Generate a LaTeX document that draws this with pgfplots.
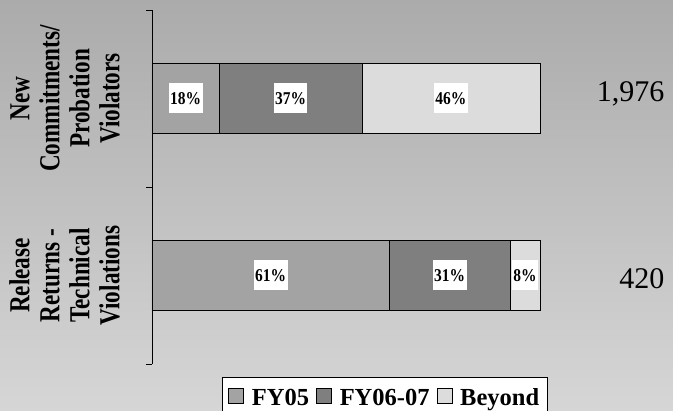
\documentclass[border=0pt]{standalone}
\usepackage{pgfplots}
\pgfplotsset{compat=1.18}
\usepackage{pgfplotstable}
\usepackage{fontspec}
\setmainfont{Liberation Serif}
% the chart's text is squeezed sideways
\newfontfamily\ylabfont[FakeStretch=0.8]{Liberation Serif}
\newfontfamily\barfont[FakeStretch=0.86]{Liberation Serif}

\definecolor{fyfive}{HTML}{A3A3A3}
\definecolor{fysix}{HTML}{7F7F7F}
\definecolor{beyond}{HTML}{DCDCDC}
\definecolor{bgtop}{HTML}{ABABAB}
\definecolor{bgbot}{HTML}{D6D6D6}

% segment lengths as drawn (percent of bar), labels as printed
\pgfplotstableread{
y  a    b    c    la lb lc
0  61.1 31.2 7.7  61 31 8
1  17.3 36.8 45.9 18 37 46
}\shares

\begin{document}
\begin{tikzpicture}
\shade[top color=bgtop, bottom color=bgbot] (0,0) rectangle (673pt,-411pt);
\useasboundingbox (0,0) rectangle (673pt,-411pt);
\begin{axis}[
  at={(152pt,-364pt)}, anchor=south west,
  width=388pt, height=354pt, scale only axis,
  clip=false,
  xbar stacked, bar width=0.4,
  xmin=0, xmax=100, ymin=-0.5, ymax=1.5,
  axis x line=none, axis y line*=left,
  axis line style={-, line width=0.8pt},
  ytick={0,1},
  yticklabels={{Release\\Returns -\\Technical\\Violations},{New\\Commitments/\\Probation\\Violators}},
  minor ytick={-0.5,0.5,1.5},
  major tick length=0pt, minor tick length=6pt, tick align=outside,
  tick style={line width=0.8pt, black},
  yticklabel style={rotate=90, anchor=south, align=center, inner sep=0pt,
    font=\fontsize{29}{30}\ylabfont\bfseries},
  yticklabel shift=32pt,
  point meta=explicit symbolic,
  nodes near coords={\pgfplotspointmeta\%},
  every node near coord/.append style={anchor=center, fill=white,
    inner xsep=1.5pt, inner ysep=0pt, minimum height=30pt,
    font=\fontsize{18}{20}\barfont\bfseries},
  legend style={at={(0.1804,-0.0367)}, anchor=north west, legend columns=3,
    draw=black, line width=0.8pt, fill=white, inner ysep=9.5pt, inner xsep=6pt,
    font=\fontsize{24.5}{28}\selectfont\bfseries,
    /tikz/every odd column/.append style={column sep=6pt},
    /tikz/every even column/.append style={column sep=5pt}},
  legend image code/.code={\draw[#1, draw=black, line width=0.6pt] (0pt,-5pt) rectangle (15pt,10pt);},
]
\addplot[fill=fyfive, draw=black, line width=0.8pt]
  table[x=a, y=y, meta=la] {\shares};
\addplot[fill=fysix, draw=black, line width=0.8pt]
  table[x=b, y=y, meta=lb] {\shares};
\addplot[fill=beyond, draw=black, line width=0.8pt]
  table[x=c, y=y, meta=lc] {\shares};
\legend{FY05, FY06-07, Beyond}

\node[anchor=base east, xshift=128pt, yshift=-3.5pt,
  font=\fontsize{30}{36}\selectfont] at (axis cs:100,1) {1,976};
\node[anchor=base east, xshift=128pt, yshift=-13.5pt,
  font=\fontsize{30}{36}\selectfont] at (axis cs:100,0) {420};
\end{axis}
\end{tikzpicture}
\end{document}
